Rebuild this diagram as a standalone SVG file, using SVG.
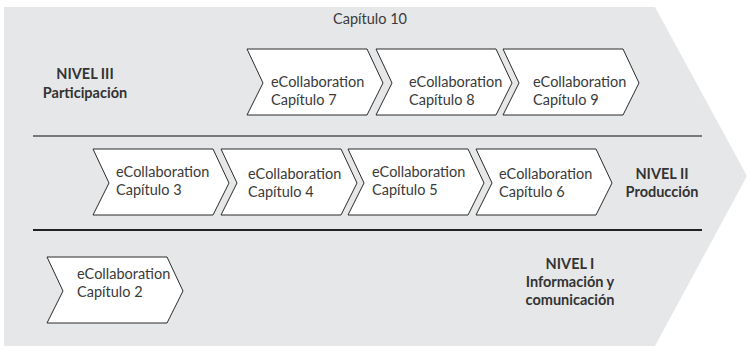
<svg xmlns="http://www.w3.org/2000/svg" width="747" height="350" viewBox="0 0 747 350">
<defs>
<style>
.bg{fill:#e6e7e8;stroke:none}
.chev{fill:#ffffff;stroke:#2b2b2b;stroke-width:1}
.t{font-family:Lato,"Open Sans","DejaVu Sans",sans-serif;font-size:14.5px;fill:#3a3a3a}
.lbl{font-family:Lato,"Open Sans","DejaVu Sans",sans-serif;font-size:14.5px;font-weight:bold;fill:#333333;text-anchor:middle}
.sep{stroke:#555555;stroke-width:1.5;fill:none}
.sep2{stroke:#222222;stroke-width:2;fill:none}
</style>
<path id="chevShape" d="M0,0 H120 L136,34 L120,66 H0 L16,34 Z"/>
</defs>
<polygon class="bg" points="4,7 655,7 747,176 655,346 4,346"/>
<text class="t" x="370" y="24" text-anchor="middle">Capítulo 10</text>
<g id="separators">
<line class="sep" x1="33" y1="136" x2="702" y2="136"/>
<line class="sep2" x1="33" y1="230" x2="702" y2="230"/>
</g>
<g id="level3"><text class="lbl" x="85" y="79">NIVEL III</text><text class="lbl" x="85" y="98">Participación</text></g>
<g id="level2"><text class="lbl" x="662" y="179">NIVEL II</text><text class="lbl" x="662" y="197">Producción</text></g>
<g id="level1"><text class="lbl" x="570" y="269">NIVEL I</text><text class="lbl" x="570" y="287">Información y</text><text class="lbl" x="570" y="305">comunicación</text></g>
<g id="cap7"><use href="#chevShape" class="chev" x="247" y="49"/><text class="t" x="271" y="87">eCollaboration</text><text class="t" x="271" y="105">Capítulo 7</text></g>
<g id="cap8"><use href="#chevShape" class="chev" x="376" y="49"/><text class="t" x="409" y="87">eCollaboration</text><text class="t" x="409" y="105">Capítulo 8</text></g>
<g id="cap9"><use href="#chevShape" class="chev" x="503" y="49"/><text class="t" x="533" y="87">eCollaboration</text><text class="t" x="533" y="105">Capítulo 9</text></g>
<g id="cap3"><use href="#chevShape" class="chev" x="93" y="149"/><text class="t" x="116" y="177">eCollaboration</text><text class="t" x="116" y="195">Capítulo 3</text></g>
<g id="cap4"><use href="#chevShape" class="chev" x="221" y="149"/><text class="t" x="248" y="179">eCollaboration</text><text class="t" x="248" y="197">Capítulo 4</text></g>
<g id="cap5"><use href="#chevShape" class="chev" x="348" y="149"/><text class="t" x="372" y="177">eCollaboration</text><text class="t" x="372" y="195">Capítulo 5</text></g>
<g id="cap6"><use href="#chevShape" class="chev" x="476" y="149"/><text class="t" x="499" y="179">eCollaboration</text><text class="t" x="499" y="197">Capítulo 6</text></g>
<g id="cap2"><use href="#chevShape" class="chev" x="47" y="257"/><text class="t" x="77" y="279">eCollaboration</text><text class="t" x="77" y="297">Capítulo 2</text></g>
</svg>
